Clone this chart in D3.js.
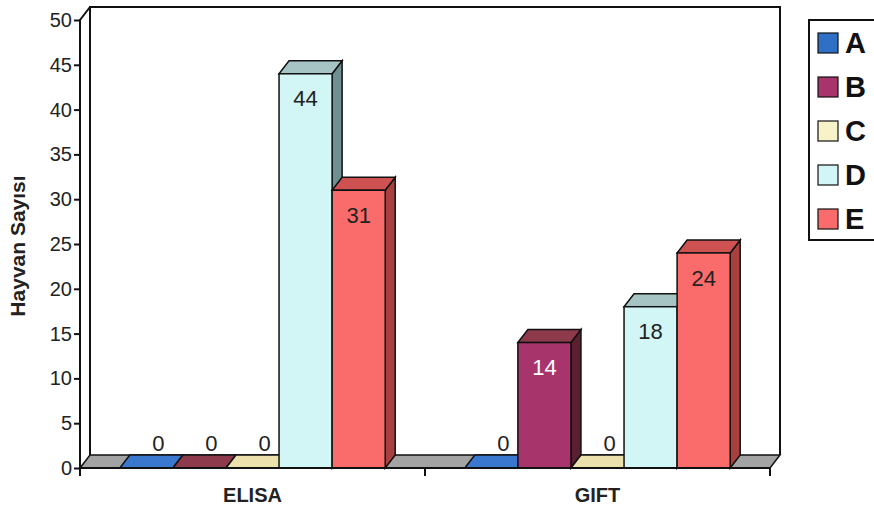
<!DOCTYPE html>
<html><head><meta charset="utf-8">
<script src="https://cdn.jsdelivr.net/npm/d3@7"></script>
<style>body{margin:0;background:#fff}text{font-family:"Liberation Sans",Arial,sans-serif}</style>
</head><body><svg id="c" width="874" height="511"></svg>
<script>
const categories = ["ELISA", "GIFT"];
const seriesNames = ["A", "B", "C", "D", "E"];
const valuesELISA = [0, 0, 0, 44, 31];
const valuesGIFT = [0, 14, 0, 18, 24];
const yTicks = [0, 5, 10, 15, 20, 25, 30, 35, 40, 45, 50];
const yTitle = "Hayvan Sayısı";

const frontColors = ["#2f70c6", "#a8346c", "#f8f2c8", "#d2f5f5", "#fa6b6b"];
const topColors   = ["#3a78cf", "#8c3a4c", "#ece0ac", "#a6c4c4", "#cf5252"];
const sideColors  = ["#24559a", "#5a2030", "#c8bf90", "#6e9090", "#a84040"];
const labelColors = ["#222", "#fff", "#222", "#222", "#222"];

const svg = d3.select("#c");
const X0 = 80, X1 = 770, DX = 10, DY = -13;
const y = d3.scaleLinear().domain([0, 50]).range([468, 20]);
const x0 = d3.scaleBand().domain(categories).range([X0, X1]).padding(0);
const x1 = d3.scaleBand().domain(seriesNames).range([0, x0.bandwidth()]).paddingInner(0).paddingOuter(0.75);
const table = categories.map((c, i) => ({cat: c, vals: i === 0 ? valuesELISA : valuesGIFT}));

const line = d3.line();
const y0 = y(0);
// back wall / frame
svg.append("path").attr("d", line([[X0 + DX, y0 + DY], [X0 + DX, y(50) + DY], [X1 + DX, y(50) + DY], [X1 + DX, y0 + DY]]))
  .attr("fill", "none").attr("stroke", "#111").attr("stroke-width", 2);
svg.append("path").attr("d", line([[X0, y0], [X0, y(50)], [X0 + DX, y(50) + DY]]))
  .attr("fill", "none").attr("stroke", "#111").attr("stroke-width", 2);
// floor
svg.append("path").attr("d", line([[X0, y0], [X0 + DX, y0 + DY], [X1 + DX, y0 + DY], [X1, y0]]) + "Z")
  .attr("fill", "#a3a3a3").attr("stroke", "#111").attr("stroke-width", 1.5);

// bars
table.forEach(g => {
  g.vals.forEach((v, i) => {
    const bx = x0(g.cat) + x1(seriesNames[i]);
    const bw = x1.bandwidth();
    const top = y(v);
    const grp = svg.append("g");
    if (v > 0) {
      grp.append("path").attr("d", line([[bx + bw, top], [bx + bw + DX, top + DY], [bx + bw + DX, y0 + DY], [bx + bw, y0]]) + "Z")
        .attr("fill", sideColors[i]).attr("stroke", "#111").attr("stroke-width", 1.5);
    }
    grp.append("path").attr("d", line([[bx, top], [bx + DX, top + DY], [bx + bw + DX, top + DY], [bx + bw, top]]) + "Z")
      .attr("fill", topColors[i]).attr("stroke", "#111").attr("stroke-width", 1.5);
    if (v > 0) {
      grp.append("rect").attr("x", bx).attr("y", top).attr("width", bw).attr("height", y0 - top)
        .attr("fill", frontColors[i]).attr("stroke", "#111").attr("stroke-width", 1.5);
      grp.append("text").attr("x", bx + bw / 2).attr("y", top + 25).attr("dy", "0.35em")
        .attr("text-anchor", "middle").attr("font-size", 22).attr("fill", labelColors[i]).text(v);
    } else {
      grp.append("text").attr("x", bx + bw / 2 + 12).attr("y", y0 + DY - 4)
        .attr("text-anchor", "middle").attr("font-size", 22).attr("fill", "#222").text(v);
    }
  });
});

// front axis line over
svg.append("line").attr("x1", X0).attr("x2", X0).attr("y1", y(50)).attr("y2", y0 + 1).attr("stroke", "#111").attr("stroke-width", 2);
svg.append("line").attr("x1", X0).attr("x2", X1).attr("y1", y0).attr("y2", y0).attr("stroke", "#111").attr("stroke-width", 2);

// y axis
const yAxis = d3.axisLeft(y).tickValues(yTicks).tickSize(6).tickPadding(2);
const ya = svg.append("g").attr("transform", `translate(${X0},0)`).call(yAxis);
ya.select(".domain").remove();
ya.selectAll("line").attr("stroke", "#111").attr("stroke-width", 2);
ya.selectAll("text").attr("font-size", 20).attr("fill", "#222").attr("font-family", "Liberation Sans, Arial, sans-serif");

// x axis ticks
const xTickPos = [X0, x0("GIFT"), X1];
xTickPos.forEach(px => {
  svg.append("line").attr("x1", px).attr("x2", px).attr("y1", y0).attr("y2", y0 + 8).attr("stroke", "#111").attr("stroke-width", 2);
});
categories.forEach(c => {
  svg.append("text").attr("x", x0(c) + x0.bandwidth() / 2).attr("y", 502).attr("text-anchor", "middle")
    .attr("font-size", 20).attr("font-weight", "bold").attr("fill", "#222").text(c);
});

// y title
svg.append("text").attr("transform", "translate(25,246) rotate(-90)").attr("text-anchor", "middle")
  .attr("font-size", 21).attr("font-weight", "bold").attr("fill", "#222").text(yTitle);

// legend
svg.append("rect").attr("x", 809).attr("y", 20).attr("width", 80).attr("height", 220)
  .attr("fill", "none").attr("stroke", "#111").attr("stroke-width", 2);
const ly = d3.scalePoint().domain(seriesNames).range([43, 219]);
seriesNames.forEach((s, i) => {
  svg.append("rect").attr("x", 818).attr("y", ly(s) - 10).attr("width", 20).attr("height", 20)
    .attr("fill", frontColors[i]).attr("stroke", "#111").attr("stroke-width", 1.2);
  svg.append("text").attr("x", 845).attr("y", ly(s)).attr("dy", "0.36em")
    .attr("font-size", 29).attr("font-weight", "bold").attr("fill", "#111").text(s);
});
</script></body></html>
